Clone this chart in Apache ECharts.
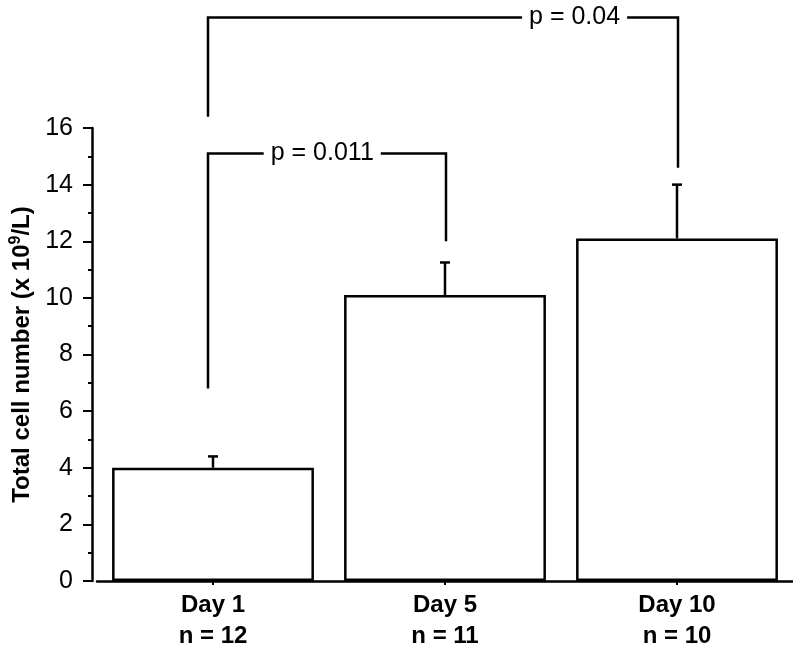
<!DOCTYPE html>
<html><head><meta charset="utf-8">
<script src="https://cdn.jsdelivr.net/npm/echarts@6/dist/echarts.min.js"></script>
<style>html,body{margin:0;padding:0;background:#fff}#c{width:793px;height:652px}</style>
</head><body><div id="c"></div>
<script>
// ---- data ----
const categories = ['Day 1\nn = 12', 'Day 5\nn = 11', 'Day 10\nn = 10'];
const meanValues = [4.0, 10.1, 12.1];
const upperValues = [4.4, 11.25, 14.0];
// significance brackets (category indices and y values)
const bracketFrom = [0, 0];
const bracketTo = [1, 2];
const bracketTop = [15.1, 19.9];
const bracketFromEnd = [6.8, 16.4];
const bracketToEnd = [12.0, 14.6];
const bracketLabels = ['p = 0.011', 'p = 0.04'];

// ---- styles / layout ----
const labelFrac = [0.48, 0.78];
const FONT = '"Liberation Sans", Arial, Helvetica, sans-serif';
const LW = 2.5;

const chart = echarts.init(document.getElementById('c'), null, {renderer: 'canvas'});

const errData = categories.map((c, i) => [i, meanValues[i], upperValues[i]]);
const brData = bracketFrom.map((f, i) => [f, bracketTo[i], bracketTop[i], bracketFromEnd[i], bracketToEnd[i]]);

chart.setOption({
  animation: false,
  backgroundColor: '#fff',
  grid: {left: 96, right: 0, top: 128, bottom: 70},
  xAxis: {
    type: 'category',
    data: categories,
    axisLine: {lineStyle: {color: '#000', width: LW}},
    axisTick: {show: true, alignWithLabel: true, length: 4, lineStyle: {color: '#000', width: 2}},
    axisLabel: {color: '#000', fontFamily: FONT, fontWeight: 'bold', fontSize: 24, lineHeight: 31, margin: 9}
  },
  yAxis: {
    type: 'value',
    min: 0, max: 16, interval: 2,
    offset: 5,
    name: '{a|Total cell number (x 10}{s|9}{a|/L)}',
    nameLocation: 'middle',
    nameGap: 58,
    nameTextStyle: {
      color: '#000', fontFamily: FONT, fontWeight: 'bold', fontSize: 24,
      rich: {
        a: {color: '#000', fontFamily: FONT, fontWeight: 'bold', fontSize: 24, lineHeight: 26, verticalAlign: 'bottom'},
        s: {color: '#000', fontFamily: FONT, fontWeight: 'bold', fontSize: 16, lineHeight: 26, verticalAlign: 'top'}
      }
    },
    axisLine: {show: true, lineStyle: {color: '#000', width: LW}},
    axisTick: {show: true, length: 9, lineStyle: {color: '#000', width: 2}},
    minorTick: {show: true, splitNumber: 2, length: 4, lineStyle: {color: '#000', width: 2}},
    splitLine: {show: false},
    axisLabel: {color: '#000', fontFamily: FONT, fontSize: 25, margin: 19}
  },
  series: [
    {
      type: 'bar',
      data: meanValues,
      barWidth: '87%',
      itemStyle: {color: '#fff', borderColor: '#000', borderWidth: LW}
    },
    {
      type: 'custom',
      data: errData,
      encode: {x: 0, y: [1, 2]},
      z: 3,
      renderItem: function (params, api) {
        const top = api.coord([api.value(0), api.value(1)]);
        const up = api.coord([api.value(0), api.value(2)]);
        return {
          type: 'group',
          children: [
            {type: 'line', shape: {x1: top[0], y1: top[1], x2: up[0], y2: up[1]}, style: {stroke: '#000', lineWidth: LW}},
            {type: 'line', shape: {x1: up[0] - 5, y1: up[1], x2: up[0] + 5, y2: up[1]}, style: {stroke: '#000', lineWidth: LW}}
          ]
        };
      }
    },
    {
      type: 'custom',
      data: brData,
      encode: {x: 0, y: 2},
      clip: false,
      z: 4,
      renderItem: function (params, api) {
        const i = params.dataIndex;
        const a = api.value(0), b = api.value(1);
        const tl = api.coord([a, api.value(2)]);
        const tr = api.coord([b, api.value(2)]);
        const bl = api.coord([a, api.value(3)]);
        const br = api.coord([b, api.value(4)]);
        const xl = tl[0] - 5, xr = tr[0] + 1;
        return {
          type: 'group',
          children: [
            {type: 'polyline', shape: {points: [[xl, bl[1]], [xl, tl[1]], [xr, tr[1]], [xr, br[1]]]}, style: {stroke: '#000', lineWidth: LW, fill: 'none'}},
            {type: 'text', z2: 10, x: xl + labelFrac[i] * (xr - xl), y: tl[1],
              style: {text: bracketLabels[i], fill: '#000', font: '25px ' + FONT, align: 'center', verticalAlign: 'middle', backgroundColor: '#fff', padding: [0, 7]}}
          ]
        };
      }
    }
  ]
});
</script>
</body></html>
